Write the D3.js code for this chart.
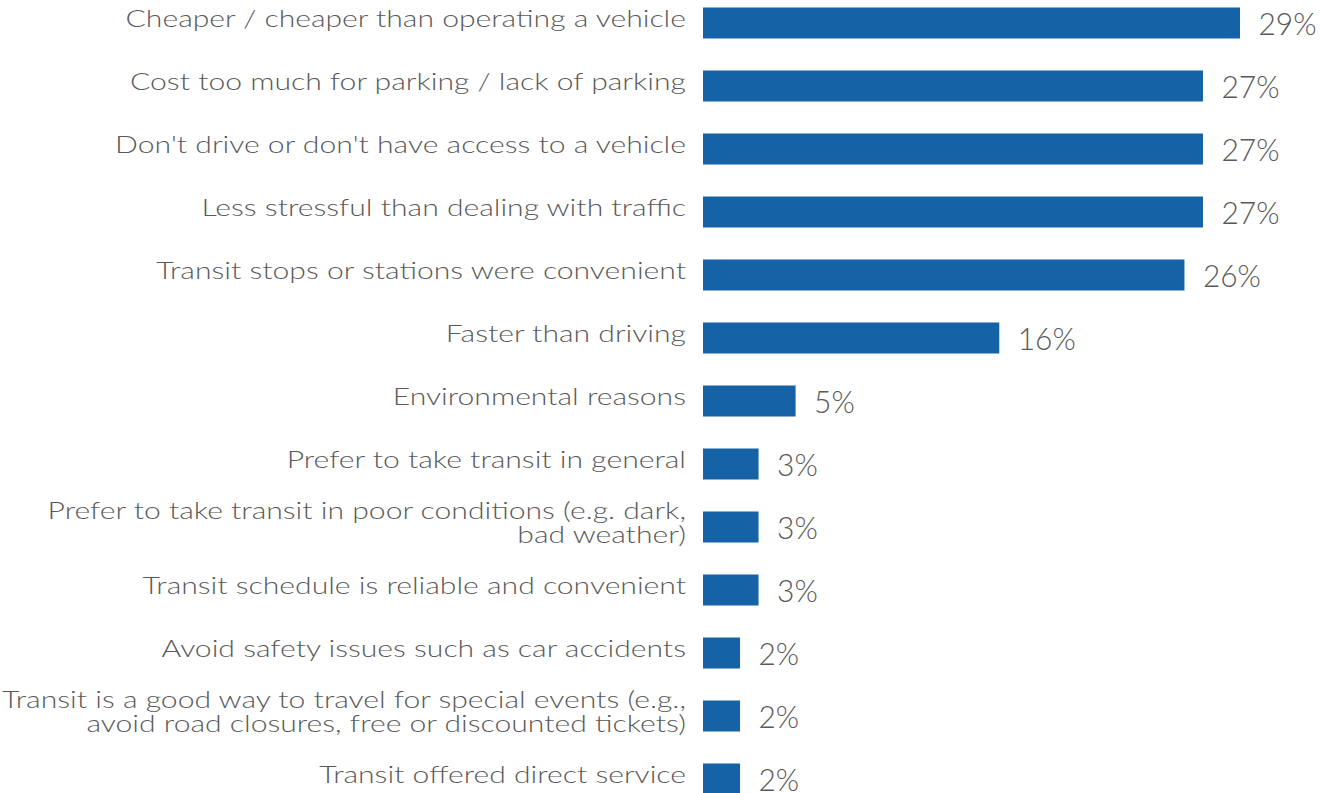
<!DOCTYPE html>
<html>
<head>
<meta charset="utf-8">
<script src="https://cdn.jsdelivr.net/npm/d3@7/dist/d3.min.js"></script>
<style>
  html, body { margin: 0; padding: 0; background: #ffffff; }
  svg { display: block; }
</style>
</head>
<body>
<svg id="chart" width="1320" height="793"></svg>
<script>
const categories = [
  "Cheaper / cheaper than operating a vehicle",
  "Cost too much for parking / lack of parking",
  "Don't drive or don't have access to a vehicle",
  "Less stressful than dealing with traffic",
  "Transit stops or stations were convenient",
  "Faster than driving",
  "Environmental reasons",
  "Prefer to take transit in general",
  "Prefer to take transit in poor conditions (e.g. dark,\nbad weather)",
  "Transit schedule is reliable and convenient",
  "Avoid safety issues such as car accidents",
  "Transit is a good way to travel for special events (e.g.,\navoid road closures, free or discounted tickets)",
  "Transit offered direct service"
];
const values = [29, 27, 27, 27, 26, 16, 5, 3, 3, 3, 2, 2, 2];

const FONT = "Lato, 'DejaVu Sans', sans-serif";
const TEXT_COLOR = "#595959";
const BAR_COLOR = "#1563a6";
const LABEL_SIZE = 23;
const VALUE_SIZE = 32;

const svg = d3.select("#chart");

const x = d3.scaleLinear().domain([0, 29]).range([703, 1240]);
const y = d3.scaleBand().domain(categories)
  .range([7.5, 7.5 + 12 * 63 + 31])
  .paddingInner(0.508).paddingOuter(0);

function measure(text, size) {
  const t = svg.append("text").attr("font-family", FONT).attr("font-weight", 300)
    .attr("font-size", size).text(text);
  const w = t.node().getComputedTextLength();
  t.remove();
  return w;
}
// horizontal stretch to mimic the wide geometric face of the original:
// fitted so the longest label line just fits the left margin
const longest = d3.max(categories.flatMap(c => c.split("\n")), l => measure(l, LABEL_SIZE));
const labelStretch = 684 / longest;
const valueStretch = 58 / measure("29%", VALUE_SIZE);

svg.append("g").selectAll("rect").data(values).join("rect")
  .attr("x", x(0))
  .attr("y", (d, i) => y(categories[i]))
  .attr("width", d => x(d) - x(0))
  .attr("height", y.bandwidth())
  .attr("fill", BAR_COLOR);

const labels = svg.append("g").selectAll("text").data(categories).join("text")
  .attr("font-family", FONT)
  .attr("font-weight", 300)
  .attr("font-size", LABEL_SIZE)
  .attr("fill", TEXT_COLOR)
  .attr("text-anchor", "end");

labels.each(function(d) {
  const lines = d.split("\n");
  const cy = y(d) + y.bandwidth() / 2;
  const sel = d3.select(this);
  const offsets = lines.length === 1 ? [3.7] : [-7.7, 15.7];
  lines.forEach((l, k) => {
    sel.append("tspan")
      .attr("x", 686)
      .attr("y", cy + offsets[k])
      .attr("textLength", measure(l, LABEL_SIZE) * labelStretch)
      .attr("lengthAdjust", "spacingAndGlyphs")
      .text(l);
  });
});

svg.append("g").selectAll("text").data(values).join("text")
  .attr("font-family", FONT)
  .attr("font-weight", 300)
  .attr("font-size", VALUE_SIZE)
  .attr("fill", TEXT_COLOR)
  .attr("x", d => x(d) + 18.5)
  .attr("y", (d, i) => y(categories[i]) + y.bandwidth() / 2 + 12)
  .attr("textLength", d => measure(d + "%", VALUE_SIZE) * valueStretch)
  .attr("lengthAdjust", "spacingAndGlyphs")
  .text(d => d + "%");
</script>
</body>
</html>
